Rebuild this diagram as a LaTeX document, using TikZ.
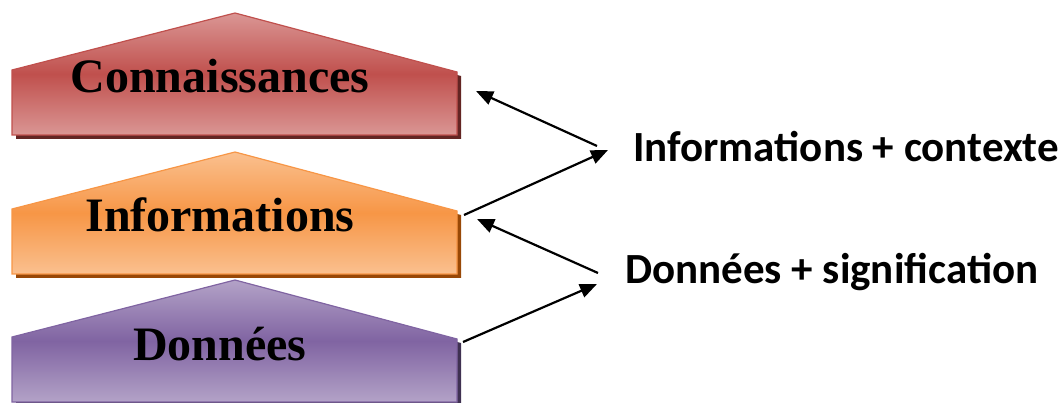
\documentclass[tikz,border=0pt]{standalone}
\usepackage{fontspec}
\setmainfont{Liberation Serif}
\newfontfamily\labelfont{Carlito}
\usetikzlibrary{arrows.meta,positioning,calc}

\definecolor{connMid}{HTML}{C0504D}
\definecolor{connLight}{HTML}{DA9694}
\definecolor{connDark}{HTML}{632523}
\definecolor{infoMid}{HTML}{F79646}
\definecolor{infoLight}{HTML}{FAC08F}
\definecolor{infoDark}{HTML}{984807}
\definecolor{donnMid}{HTML}{8064A2}
\definecolor{donnLight}{HTML}{B3A2C7}
\definecolor{donnDark}{HTML}{3F3151}

\begin{document}
\begin{tikzpicture}[
  x=1pt, y=-1pt,
  levelname/.style={font=\fontsize{48}{52}\selectfont\bfseries, inner sep=0pt, anchor=base},
  sidelabel/.style={font=\labelfont\fontsize{43}{48}\selectfont\bfseries, inner sep=0pt, anchor=base west},
  arrow/.style={-{Triangle[length=17pt,width=14pt]}, line width=2.2pt, draw=black}
]
  \useasboundingbox (0,0) rectangle (1058,403);

  % Levels (shadow, then shaded house shape)
  \foreach \nm/\ty in {conn/13, info/152, donn/280}{
    \path[shift={(4,4)}, fill=\nm Dark]
      (12,{\ty+57}) -- (235,\ty) -- (457,{\ty+59}) -- (457,{\ty+122}) -- (12,{\ty+122}) -- cycle;
    \path[draw=\nm Mid, line width=1.2pt, top color=\nm Light, bottom color=\nm Light, middle color=\nm Mid]
      (12,{\ty+57}) -- (235,\ty) -- (457,{\ty+59}) -- (457,{\ty+122}) -- (12,{\ty+122}) -- cycle;
  }

  % Level names
  \node[levelname] (conn) at (220,93) {Connaissances};
  \node[levelname] (info) at (220,232) {Informations};
  \node[levelname] (donn) at (220,360) {Données};

  % Side labels
  \node[sidelabel] (lblIC) at (633,162) {Informations + contexte};
  \node[sidelabel] (lblDS) at (625,284) {Données + signification};

  % Arrow ends
  \coordinate (connR) at (476,91);
  \coordinate (infoOut) at (464,215);
  \coordinate (infoIn) at (477,219);
  \coordinate (donnR) at (463,342);
  \coordinate (icIn) at ($(lblIC.base west)+(-36,-16)$);
  \coordinate (icOut) at ($(lblIC.base west)+(-25,-12)$);
  \coordinate (dsOut) at ($(lblDS.base west)+(-27,-11)$);
  \coordinate (dsIn) at ($(lblDS.base west)+(-28,0)$);

  % Connectors
  \draw[arrow] (icIn) -- (connR);
  \draw[arrow] (infoOut) -- (icOut);
  \draw[arrow] (dsOut) -- (infoIn);
  \draw[arrow] (donnR) -- (dsIn);
\end{tikzpicture}
\end{document}
